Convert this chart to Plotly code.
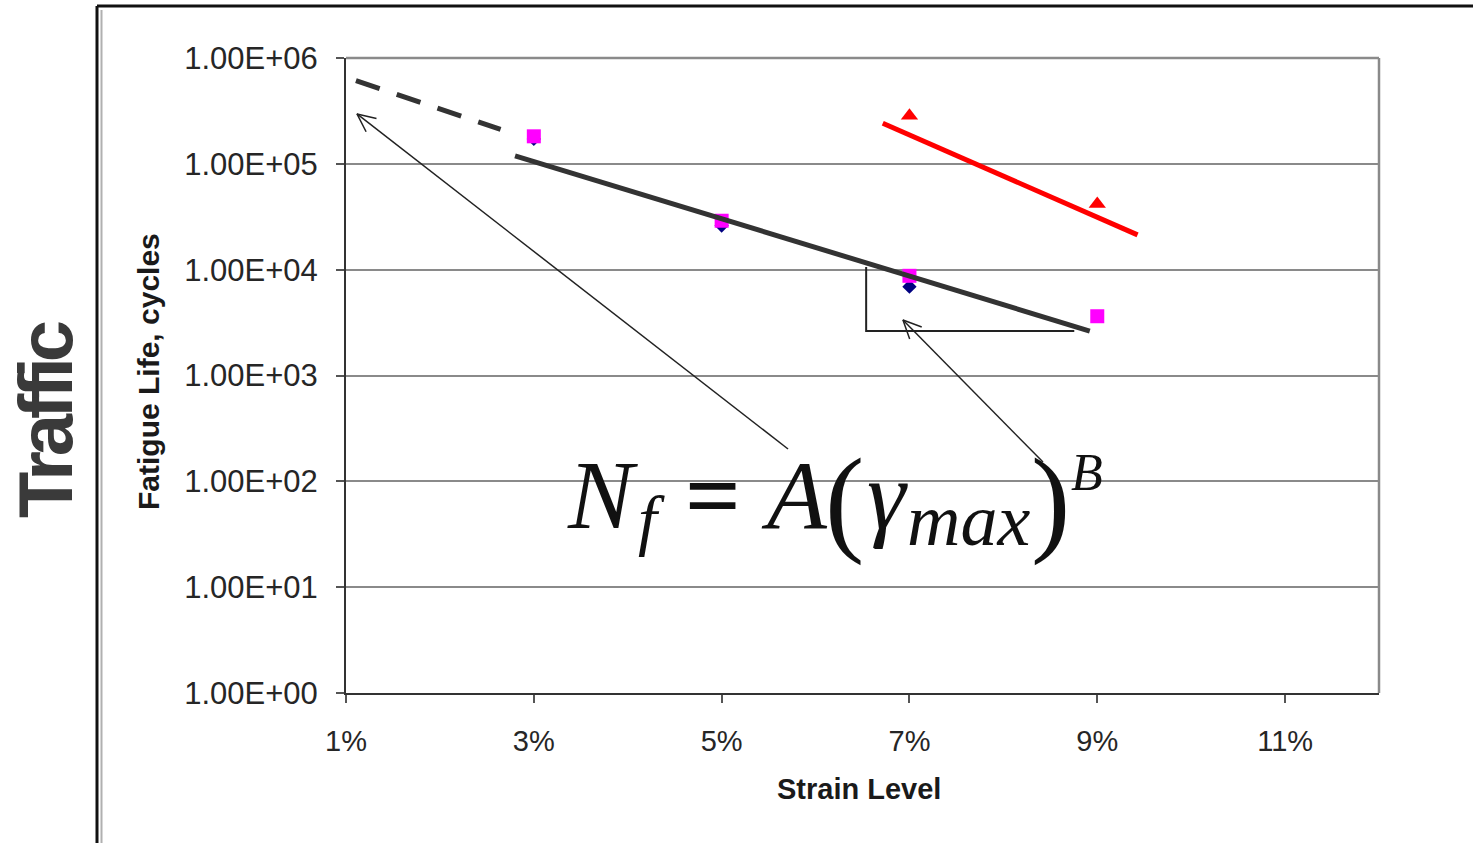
import numpy as np
import plotly.graph_objects as go

# ---- data -------------------------------------------------------------
strain_diamond = [0.03, 0.05, 0.07]
life_diamond = [1.72e5, 2.61e4, 6.9e3]

strain_square = [0.03, 0.05, 0.07, 0.09]
life_square = [1.82e5, 2.90e4, 8.75e3, 3.63e3]

strain_triangle = [0.07, 0.09]
life_triangle = [2.84e5, 4.17e4]

# trend lines
fit_strain = [0.0280, 0.0892]
fit_life = [1.19e5, 2.63e3]

extrap_strain = [0.01106, 0.02646]
extrap_life = [6.10e5, 2.12e5]

red_fit_strain = [0.06716, 0.09429]
red_fit_life = [2.42e5, 2.13e4]

# slope triangle under the fit line
slope_strain = [0.06539, 0.06539, 0.08755]
slope_life = [1.06e4, 2.63e3, 2.63e3]

# annotation arrows: (tail strain, tail life, head strain, head life)
arrow_a = (0.05707, 202.0, 0.01117, 2.96e5)
arrow_b = (0.08422, 152.0, 0.06931, 3.34e3)

x_tickvals = [0.01, 0.03, 0.05, 0.07, 0.09, 0.11]
x_ticktext = ["1%", "3%", "5%", "7%", "9%", "11%"]
y_tickvals = [1e0, 1e1, 1e2, 1e3, 1e4, 1e5, 1e6]
y_ticktext = ["1.00E+00", "1.00E+01", "1.00E+02", "1.00E+03",
              "1.00E+04", "1.00E+05", "1.00E+06"]

# ---- layout geometry --------------------------------------------------
W, H = 1473, 843
ML, MR, MT, MB = 346, 94, 58, 150
PW, PH = W - ML - MR, H - MT - MB
X0, X1 = 0.01, 0.12
Y0, Y1 = 0.0, 6.0


def to_px(x, y):
    return (ML + (x - X0) / (X1 - X0) * PW,
            MT + (Y1 - np.log10(y)) / (Y1 - Y0) * PH)


def from_px(px, py):
    return (X0 + (px - ML) / PW * (X1 - X0),
            10 ** (Y1 - (py - MT) / PH * (Y1 - Y0)))


def paper(px, py):
    return (px - ML) / PW, (H - MB - py) / PH


def arrow_path(tail_x, tail_y, head_x, head_y, wing=20, spread=25):
    tx, ty = to_px(tail_x, tail_y)
    hx, hy = to_px(head_x, head_y)
    ang = np.arctan2(ty - hy, tx - hx)
    xs, ys = [tail_x, head_x, None], [tail_y, head_y, None]
    pts = []
    for s in (-1, 1):
        a = ang + s * np.radians(spread)
        pts.append(from_px(hx + wing * np.cos(a), hy + wing * np.sin(a)))
    xs += [pts[0][0], head_x, pts[1][0]]
    ys += [pts[0][1], head_y, pts[1][1]]
    return xs, ys


fig = go.Figure()

# data markers
fig.add_trace(go.Scatter(x=strain_diamond, y=life_diamond, mode="markers",
                         marker=dict(symbol="diamond", size=11, color="#000080"),
                         showlegend=False))
fig.add_trace(go.Scatter(x=strain_square, y=life_square, mode="markers",
                         marker=dict(symbol="square", size=14, color="#FF00FF"),
                         showlegend=False))
fig.add_trace(go.Scatter(x=strain_triangle, y=life_triangle, mode="markers",
                         marker=dict(symbol="triangle-up", size=15, color="#FF0000"),
                         showlegend=False))

# trend lines
fig.add_trace(go.Scatter(x=extrap_strain, y=extrap_life, mode="lines",
                         line=dict(color="#333333", width=5, dash="25px,18px"),
                         showlegend=False))
fig.add_trace(go.Scatter(x=fit_strain, y=fit_life, mode="lines",
                         line=dict(color="#333333", width=5),
                         showlegend=False))
fig.add_trace(go.Scatter(x=red_fit_strain, y=red_fit_life, mode="lines",
                         line=dict(color="#FF0000", width=5),
                         showlegend=False))

# slope triangle
fig.add_trace(go.Scatter(x=slope_strain, y=slope_life, mode="lines",
                         line=dict(color="#222222", width=2),
                         showlegend=False))

# arrows pointing from the equation
for arr in (arrow_a, arrow_b):
    ax, ay = arrow_path(*arr)
    fig.add_trace(go.Scatter(x=ax, y=ay, mode="lines",
                             line=dict(color="#222222", width=1.5),
                             connectgaps=False, showlegend=False))

# white panel behind the equation
bx0, by0 = paper(500, 565)
bx1, by1 = paper(1105, 445)
fig.add_shape(type="rect", xref="paper", yref="paper",
              x0=bx0, x1=bx1, y0=by0, y1=by1,
              fillcolor="white", line=dict(width=0), layer="between")

# outer frame (top and left edges)
fx0, fy0 = paper(97, 6)
fx1, _ = paper(W + 5, 6)
_, fyb = paper(97, H + 5)
fig.add_shape(type="line", xref="paper", yref="paper",
              x0=fx0, x1=fx1, y0=fy0, y1=fy0, line=dict(color="#111111", width=3))
fig.add_shape(type="line", xref="paper", yref="paper",
              x0=fx0, x1=fx0, y0=fy0, y1=fyb, line=dict(color="#111111", width=3))
gx, gy = paper(101.5, 10)
fig.add_shape(type="line", xref="paper", yref="paper",
              x0=gx, x1=gx, y0=gy, y1=fyb, line=dict(color="#b0b0b0", width=2))

# top and right border of the plot area
fig.add_shape(type="line", xref="paper", yref="paper",
              x0=1, x1=1, y0=0, y1=1, line=dict(color="#8a8a8a", width=2.5))
fig.add_shape(type="line", xref="paper", yref="paper",
              x0=0, x1=1, y0=1, y1=1, line=dict(color="#8a8a8a", width=2.5))

# equation N_f = A(gamma_max)^B, set piece by piece
serif = "Liberation Serif, Times New Roman, serif"
eq_pieces = [
    # text, left px, baseline px, size, italic, bold
    ("N", 566, 528, 98, True, False),
    ("f", 637, 543, 68, True, False),
    ("=", 684, 528, 98, False, True),
    ("A", 760, 528, 98, True, False),
    ("(", 824, 540, 118, False, False),
    ("γ", 866, 528, 98, True, False),
    ("max", 906, 545, 74, True, False),
    (")", 1030, 540, 118, False, False),
    ("B", 1070, 490, 52, True, False),
]
for txt, lx, base, size, ital, bold in eq_pieces:
    xp, yp = paper(lx, base - 0.3375 * size)
    fig.add_annotation(x=xp, y=yp, xref="paper", yref="paper", text=txt,
                       showarrow=False, xanchor="left", yanchor="middle", borderpad=0,
                       font=dict(family=serif, size=size, color="#111111",
                                 style="italic" if ital else "normal",
                                 weight="bold" if bold else "normal"))

# side label (zero-width non-joiners keep the f-f-i letters apart)
tx, ty = paper(45, 420)
fig.add_annotation(x=tx, y=ty, xref="paper", yref="paper",
                   text='<span style="letter-spacing:-5px">'
                        '<b>Traf\u200cf\u200cic</b></span>',
                   showarrow=False, textangle=-90, xanchor="center", yanchor="middle",
                   font=dict(family="Liberation Sans Narrow, Liberation Sans, Arial",
                             size=76, color="#3a3a3a"))

# axis titles
yx, yy = paper(148, 372)
fig.add_annotation(x=yx, y=yy, xref="paper", yref="paper",
                   text="<b>Fatigue Life, cycles</b>", showarrow=False, textangle=-90,
                   xanchor="center", yanchor="middle",
                   font=dict(family="Liberation Sans, Arial", size=30, color="#1a1a1a"))
xx, xy = paper(859, 789)
fig.add_annotation(x=xx, y=xy, xref="paper", yref="paper",
                   text="<b>Strain Level</b>", showarrow=False,
                   xanchor="center", yanchor="middle",
                   font=dict(family="Liberation Sans, Arial", size=29, color="#1a1a1a"))

fig.update_xaxes(range=[X0, X1], tickvals=x_tickvals, ticktext=x_ticktext,
                 showgrid=False, zeroline=False, showline=True, linecolor="#333333",
                 linewidth=2, ticks="outside", ticklen=8, tickwidth=2, tickcolor="#555555",
                 tickfont=dict(family="Liberation Sans, Arial", size=29, color="#262626"),
                 ticklabelstandoff=13)
fig.update_yaxes(type="log", range=[Y0, Y1], tickvals=y_tickvals, ticktext=y_ticktext,
                 showgrid=True, gridcolor="#8a8a8a", gridwidth=2, zeroline=False,
                 showline=True, linecolor="#333333", linewidth=2, ticks="outside",
                 ticklen=8, tickwidth=2, tickcolor="#555555",
                 tickfont=dict(family="Liberation Sans, Arial", size=31, color="#262626"),
                 ticklabelstandoff=12)

fig.update_layout(width=W, height=H, margin=dict(l=ML, r=MR, t=MT, b=MB),
                  paper_bgcolor="white", plot_bgcolor="white", showlegend=False)

fig.write_html("out.html")
